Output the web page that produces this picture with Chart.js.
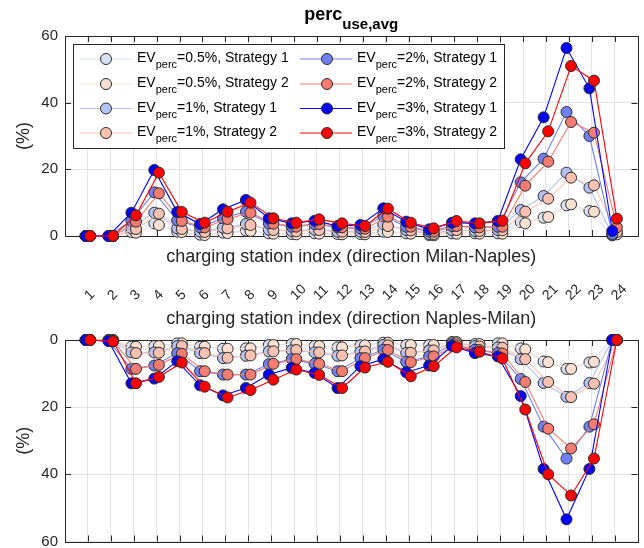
<!DOCTYPE html>
<html>
<head>
<meta charset="utf-8">
<script src="https://cdn.jsdelivr.net/npm/chart.js@4.4.1/dist/chart.umd.min.js"></script>
<style>
  body { margin: 0; background: #fff; }
  canvas { display: block; }
</style>
</head>
<body>
<canvas id="topChart" width="644" height="270"></canvas>
<canvas id="bottomChart" width="644" height="278"></canvas>
<script>
// stations on both directions
const stations = [1, 2, 3, 4, 5, 6, 7, 8, 9, 10, 11, 12, 13, 14, 15, 16, 17, 18, 19, 20, 21, 22, 23, 24];
const tickLabels = ['1', '2', '3', '4', '5', '6', '7', '8', '9', '10', '11', '12', '13', '14', '15', '16', '17', '18', '19', '20', '21', '22', '23', '24'];
const yTicks = [0, 20, 40, 60];

const evShares = ['0.5%', '0.5%', '1%', '1%', '2%', '2%', '3%', '3%'];
const strategies = ['Strategy 1', 'Strategy 2', 'Strategy 1', 'Strategy 2', 'Strategy 1', 'Strategy 2', 'Strategy 1', 'Strategy 2'];

// direction Milan-Naples (%)
const mnS1ev05 = [0, 0, 1.2, 3.8, 1.3, 0.4, 1.0, 1.6, 0.8, 0.6, 0.8, 0.6, 0.6, 1.3, 0.8, 0.3, 0.8, 0.8, 0.8, 4.2, 5.5, 9.2, 7.5, 0.2];
const mnS2ev05 = [0, 0, 1.0, 3.3, 1.2, 0.3, 0.9, 1.5, 0.7, 0.5, 0.7, 0.5, 0.5, 1.2, 0.7, 0.2, 0.7, 0.7, 0.7, 3.8, 5.7, 9.5, 7.3, 0.5];
const mnS1ev1 = [0, 0, 2.3, 7.0, 2.3, 1.3, 2.5, 3.6, 1.9, 1.5, 1.9, 1.3, 1.3, 3.6, 1.8, 0.6, 1.8, 1.5, 1.8, 7.8, 12.0, 19.0, 14.5, 0.3];
const mnS2ev1 = [0, 0, 2.1, 6.7, 2.1, 1.2, 2.3, 3.3, 1.8, 1.4, 1.8, 1.3, 1.2, 3.0, 1.7, 0.6, 1.8, 1.5, 1.7, 7.3, 11.2, 17.5, 15.2, 1.2];
const mnS1ev2 = [0, 0, 4.6, 13.1, 4.7, 2.6, 5.3, 7.3, 3.8, 2.8, 3.6, 2.6, 2.3, 6.0, 2.8, 1.3, 3.0, 2.6, 2.8, 16.1, 23.2, 37.2, 30.0, 0.6];
const mnS2ev2 = [0, 0, 4.3, 12.8, 4.5, 2.6, 5.1, 7.0, 3.7, 2.8, 3.6, 2.6, 2.2, 5.8, 2.8, 1.3, 3.0, 2.6, 2.8, 15.1, 22.3, 34.2, 31.0, 2.6];
const mnS1ev3 = [0, 0, 7.0, 19.8, 7.2, 3.6, 8.0, 10.8, 5.3, 3.8, 4.6, 3.0, 3.3, 8.3, 4.3, 2.0, 4.0, 3.8, 4.5, 23.0, 35.6, 56.4, 44.3, 1.5];
const mnS2ev3 = [0, 0, 6.2, 19.0, 7.2, 4.0, 7.3, 10.0, 5.3, 4.0, 5.0, 3.8, 3.0, 8.2, 4.0, 2.3, 4.5, 3.8, 4.6, 21.8, 31.4, 51.0, 46.6, 5.2];

// direction Naples-Milan (%)
const nmS1ev05 = [0, 0, 2.0, 1.8, 1.0, 2.0, 2.6, 2.5, 1.5, 1.2, 1.8, 2.2, 1.6, 0.8, 1.5, 1.5, 0.6, 1.2, 1.0, 2.5, 6.4, 8.6, 6.7, 0];
const nmS2ev05 = [0, 0, 2.0, 1.8, 1.0, 2.0, 2.6, 2.5, 1.5, 1.2, 1.8, 2.2, 1.6, 0.8, 1.5, 1.5, 0.6, 1.2, 1.0, 2.8, 6.6, 8.6, 6.5, 0];
const nmS1ev1 = [0, 0, 3.7, 3.7, 1.8, 3.9, 5.4, 4.7, 3.4, 3.1, 3.7, 4.7, 3.5, 1.5, 3.9, 3.1, 1.0, 1.8, 2.2, 5.7, 12.8, 16.9, 12.8, 0];
const nmS2ev1 = [0, 0, 3.9, 3.8, 1.8, 3.9, 5.3, 4.6, 3.4, 3.0, 3.7, 4.6, 3.4, 1.6, 3.8, 3.1, 1.0, 1.9, 2.3, 5.7, 12.5, 17.0, 13.0, 0];
const nmS1ev2 = [0, 0.3, 8.6, 7.6, 3.9, 9.3, 10.3, 10.3, 7.2, 5.7, 7.1, 9.3, 5.4, 2.9, 6.5, 4.9, 1.5, 2.9, 3.9, 11.6, 25.8, 35.3, 25.8, 0];
const nmS2ev2 = [0, 0.3, 8.6, 7.4, 4.1, 9.3, 10.3, 10.3, 7.1, 5.7, 7.1, 9.3, 5.4, 3.0, 6.6, 4.9, 1.6, 3.0, 4.0, 12.5, 26.4, 32.3, 25.1, 0];
const nmS1ev3 = [0, 0.3, 12.9, 11.5, 6.3, 13.5, 16.5, 14.3, 10.3, 8.3, 9.8, 14.3, 7.8, 5.7, 9.6, 7.6, 1.8, 3.9, 4.9, 16.7, 38.4, 53.4, 38.4, 0];
const nmS2ev3 = [0, 0.4, 12.9, 11.0, 6.7, 13.9, 17.1, 14.9, 11.8, 8.8, 10.4, 14.3, 8.2, 6.5, 10.8, 7.8, 2.2, 3.5, 5.5, 20.7, 40.0, 46.3, 35.3, 0];

const colors = ['#d8e1f3', '#fce1d3', '#b5c1f2', '#f9c1b1', '#7080f4', '#f47c70', '#0000ff', '#ff0000'];
const FONT = '"Liberation Sans", Arial, Helvetica, sans-serif';
const TXT = '#262626';
const GRID = '#e3e3e3';

function buildSets(rows) {
  return rows.map((vals, k) => ({
    label: 'EVperc=' + evShares[k] + ', ' + strategies[k],
    xAxisID: 'x',
    // strategy 2 markers are drawn a little to the right of strategy 1
    data: vals.map((v, i) => ({ x: stations[i] + (k % 2 ? 0.1 : -0.1), y: v })),
    borderColor: colors[k],
    backgroundColor: colors[k],
    pointBackgroundColor: colors[k],
    pointBorderColor: '#2b2b2b',
    pointBorderWidth: 1,
    pointRadius: 5.5,
    borderWidth: 1.1,
    order: rows.length - k,
    clip: false
  }));
}

function stationTicks(s) { s.ticks = stations.map(v => ({ value: v })); }
function valueTicks(s) { s.ticks = yTicks.map(v => ({ value: v })); }

function yScale(reverse) {
  return {
    min: 0, max: 60, reverse: reverse,
    afterBuildTicks: valueTicks,
    ticks: { padding: 7, color: TXT, font: { family: FONT, size: 15 } },
    grid: { color: GRID, drawTicks: false },
    border: { display: false },
    title: { display: true, text: '(%)', color: TXT, font: { family: FONT, size: 18 }, padding: { top: 13, bottom: 0 } },
    afterFit: s => { s.width = 65; s.paddingTop = 0; s.paddingBottom = 0; }
  };
}

function xScale(pos, title, h) {
  return {
    type: 'linear', position: pos, min: 0, max: 25, weight: 0,
    afterBuildTicks: stationTicks,
    ticks: { display: false },
    grid: { color: GRID, drawTicks: false },
    border: { display: false },
    title: { display: true, text: title, color: TXT, font: { family: FONT, size: 18 }, padding: { top: 0, bottom: 2 } },
    afterFit: s => { s.height = h; s.paddingLeft = 0; s.paddingRight = 0; }
  };
}

// box with inward tick marks like the original axes
const frame = {
  id: 'frame',
  beforeDatasetsDraw(chart) {
    const { ctx, chartArea: a, scales } = chart;
    ctx.save();
    ctx.strokeStyle = TXT;
    ctx.lineWidth = 1;
    ctx.beginPath();
    scales.x.ticks.forEach(t => {
      const px = Math.round(scales.x.getPixelForValue(t.value)) + 0.5;
      ctx.moveTo(px, a.top); ctx.lineTo(px, a.top + 6);
      ctx.moveTo(px, a.bottom); ctx.lineTo(px, a.bottom - 6);
    });
    scales.y.ticks.forEach(t => {
      const py = Math.round(scales.y.getPixelForValue(t.value)) + 0.5;
      ctx.moveTo(a.left, py); ctx.lineTo(a.left + 6, py);
      ctx.moveTo(a.right, py); ctx.lineTo(a.right - 6, py);
    });
    ctx.stroke();
    ctx.strokeRect(Math.round(a.left) + 0.5, Math.round(a.top) + 0.5, Math.round(a.width), Math.round(a.height));
    ctx.restore();
  }
};

function drawSubText(ctx, x, y, parts) {
  parts.forEach(p => {
    ctx.font = (p.bold ? 'bold ' : '') + p.size + 'px ' + FONT;
    ctx.fillText(p.t, x, y + (p.dy || 0));
    x += ctx.measureText(p.t).width;
  });
  return x;
}

const titleAndLegend = {
  id: 'titleAndLegend',
  afterDraw(chart) {
    const ctx = chart.ctx;
    const a = chart.chartArea;
    ctx.save();
    ctx.fillStyle = '#000';
    ctx.textBaseline = 'alphabetic';
    ctx.textAlign = 'left';
    // title perc_{use,avg}
    const parts = [{ t: 'perc', size: 18, bold: true }, { t: 'use,avg', size: 15, bold: true, dy: 9 }];
    let w = 0;
    parts.forEach(p => { ctx.font = 'bold ' + p.size + 'px ' + FONT; w += ctx.measureText(p.t).width; });
    drawSubText(ctx, (a.left + a.right) / 2 - w / 2, 20, parts);

    // legend
    ctx.fillStyle = '#fff';
    ctx.fillRect(73.5, 44.5, 431, 104);
    ctx.strokeStyle = TXT;
    ctx.lineWidth = 1;
    ctx.strokeRect(73.5, 44.5, 431, 104);
    const rows = [59, 84, 108.5, 133];
    const cols = [{ l0: 80, l1: 132, m: 106, t: 137 }, { l0: 300, l1: 352, m: 327, t: 357 }];
    chart.data.datasets.forEach((ds, k) => {
      const c = cols[k < 4 ? 0 : 1];
      const y = rows[k % 4];
      ctx.strokeStyle = ds.borderColor;
      ctx.lineWidth = 1.1;
      ctx.beginPath(); ctx.moveTo(c.l0, y); ctx.lineTo(c.l1, y); ctx.stroke();
      ctx.beginPath(); ctx.arc(c.m, y, 5.5, 0, Math.PI * 2);
      ctx.fillStyle = ds.backgroundColor; ctx.fill();
      ctx.strokeStyle = '#2b2b2b'; ctx.lineWidth = 1; ctx.stroke();
      ctx.fillStyle = '#000';
      drawSubText(ctx, c.t, y + 3, [
        { t: 'EV', size: 14 },
        { t: 'perc', size: 11, dy: 6 },
        { t: '=' + evShares[k] + ', ' + strategies[k], size: 14 }
      ]);
    });
    ctx.restore();
  }
};

const common = {
  responsive: false,
  animation: false,
  plugins: { legend: { display: false }, title: { display: false }, tooltip: { enabled: false } }
};

new Chart(document.getElementById('topChart'), {
  type: 'line',
  data: { datasets: buildSets([mnS1ev05, mnS2ev05, mnS1ev1, mnS2ev1, mnS1ev2, mnS2ev2, mnS1ev3, mnS2ev3]) },
  options: Object.assign({}, common, {
    layout: { padding: { top: 36, right: 5, left: 0, bottom: 0 } },
    scales: {
      x: xScale('bottom', 'charging station index (direction Milan-Naples)', 34),
      y: yScale(false)
    }
  }),
  plugins: [frame, titleAndLegend]
});

const bottomX = xScale('top', 'charging station index (direction Naples-Milan)', 32);
bottomX.title.padding = { top: 0, bottom: 0 };

new Chart(document.getElementById('bottomChart'), {
  type: 'line',
  data: { datasets: buildSets([nmS1ev05, nmS2ev05, nmS1ev1, nmS2ev1, nmS1ev2, nmS2ev2, nmS1ev3, nmS2ev3]) },
  options: Object.assign({}, common, {
    layout: { padding: { top: 0, right: 5, left: 0, bottom: 4 } },
    scales: {
      x: bottomX,
      xl: {
        type: 'linear', position: 'top', min: 0, max: 25, weight: 1,
        afterBuildTicks: stationTicks,
        grid: { display: false },
        border: { display: false },
        ticks: {
          autoSkip: false, minRotation: 45, maxRotation: 45, padding: -4, labelOffset: 11,
          color: TXT, font: { family: FONT, size: 14 },
          callback: v => tickLabels[stations.indexOf(v)]
        },
        afterFit: s => { s.height = 38; s.paddingLeft = 0; s.paddingRight = 0; }
      },
      y: yScale(true)
    }
  }),
  plugins: [frame]
});
</script>
</body>
</html>
